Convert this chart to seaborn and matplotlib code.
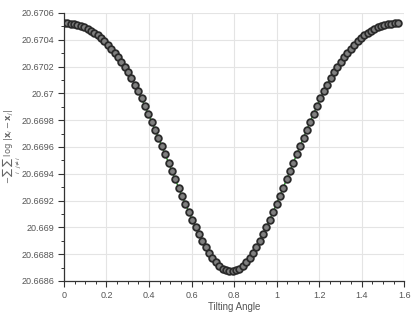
import matplotlib
matplotlib.use("Agg")
import matplotlib.pyplot as plt
import seaborn as sns
import pandas as pd
from matplotlib.ticker import MultipleLocator, FuncFormatter

angles = [
    0.0000, 0.0159, 0.0317, 0.0476, 0.0635, 0.0793, 0.0952, 0.1111, 0.1269, 0.1428,
    0.1587, 0.1745, 0.1904, 0.2063, 0.2221, 0.2380, 0.2539, 0.2697, 0.2856, 0.3015,
    0.3173, 0.3332, 0.3491, 0.3649, 0.3808, 0.3967, 0.4125, 0.4284, 0.4443, 0.4601,
    0.4760, 0.4919, 0.5077, 0.5236, 0.5395, 0.5553, 0.5712, 0.5871, 0.6029, 0.6188,
    0.6347, 0.6505, 0.6664, 0.6823, 0.6981, 0.7140, 0.7299, 0.7457, 0.7616, 0.7775,
    0.7933, 0.8092, 0.8251, 0.8409, 0.8568, 0.8727, 0.8885, 0.9044, 0.9203, 0.9361,
    0.9520, 0.9679, 0.9837, 0.9996, 1.0155, 1.0313, 1.0472, 1.0631, 1.0789, 1.0948,
    1.1107, 1.1265, 1.1424, 1.1583, 1.1741, 1.1900, 1.2059, 1.2217, 1.2376, 1.2535,
    1.2693, 1.2852, 1.3011, 1.3169, 1.3328, 1.3487, 1.3645, 1.3804, 1.3963, 1.4121,
    1.4280, 1.4439, 1.4597, 1.4756, 1.4915, 1.5073, 1.5232, 1.5391, 1.5549, 1.5708,
]

energy = [
    20.670525, 20.670524, 20.670521, 20.670517, 20.670511, 20.670503, 20.670493, 20.670481, 20.670466, 20.670450,
    20.670432, 20.670411, 20.670388, 20.670362, 20.670334, 20.670304, 20.670271, 20.670236, 20.670199, 20.670158,
    20.670114, 20.670066, 20.670015, 20.669962, 20.669906, 20.669848, 20.669789, 20.669729, 20.669669, 20.669607,
    20.669545, 20.669483, 20.669420, 20.669358, 20.669296, 20.669234, 20.669174, 20.669115, 20.669058, 20.669003,
    20.668950, 20.668900, 20.668853, 20.668811, 20.668773, 20.668740, 20.668713, 20.668692, 20.668678, 20.668671,
    20.668671, 20.668678, 20.668692, 20.668713, 20.668740, 20.668773, 20.668811, 20.668853, 20.668900, 20.668950,
    20.669003, 20.669058, 20.669115, 20.669174, 20.669234, 20.669296, 20.669358, 20.669420, 20.669483, 20.669545,
    20.669607, 20.669669, 20.669729, 20.669789, 20.669848, 20.669906, 20.669962, 20.670015, 20.670066, 20.670114,
    20.670158, 20.670199, 20.670236, 20.670271, 20.670304, 20.670334, 20.670362, 20.670388, 20.670411, 20.670432,
    20.670450, 20.670466, 20.670481, 20.670493, 20.670503, 20.670511, 20.670517, 20.670521, 20.670524, 20.670525,
]

x_label = "Tilting Angle"
y_label = r"$-\sum_i\,\sum_{j\neq i}\,\log\,|\mathbf{x}_i-\mathbf{x}_j|$"

sns.set_style("ticks")
plt.rcParams["font.family"] = ["Liberation Sans", "DejaVu Sans"]
plt.rcParams["mathtext.fontset"] = "dejavusans"

df = pd.DataFrame({"angle": angles, "energy": energy})

fig = plt.figure(figsize=(4.15, 3.16), dpi=100)
ax = fig.add_axes([0.154, 0.111, 0.82, 0.848])

sns.lineplot(data=df, x="angle", y="energy", ax=ax, color="#1a8a1a", linewidth=1.0,
             marker="o", markersize=4.8, markerfacecolor="#808080",
             markeredgecolor="#2a2a2a", markeredgewidth=1.3, zorder=3)

ax.set_xlim(0, 1.6)
ax.set_ylim(20.6686, 20.6706)
ax.xaxis.set_major_locator(MultipleLocator(0.2))
ax.xaxis.set_minor_locator(MultipleLocator(0.05))
ax.yaxis.set_major_locator(MultipleLocator(0.0002))
ax.yaxis.set_minor_locator(MultipleLocator(0.0001))
fmt = FuncFormatter(lambda v, p: "%g" % round(v, 6))
ax.xaxis.set_major_formatter(fmt)
ax.yaxis.set_major_formatter(fmt)

ax.grid(True, which="major", color="#e4e4e4", linewidth=0.8)
ax.set_axisbelow(True)
for s in ["top", "right"]:
    ax.spines[s].set_visible(False)
for s in ["left", "bottom"]:
    ax.spines[s].set_color("#333333")
    ax.spines[s].set_linewidth(0.9)

ax.tick_params(which="major", direction="out", length=4, width=0.8, color="#333333",
               labelsize=6.5, labelcolor="#555555", pad=3)
ax.tick_params(which="minor", direction="out", length=2.5, width=0.7, color="#333333")

ax.set_xlabel(x_label, fontsize=7, color="#555555", labelpad=2)
ax.set_ylabel(y_label, fontsize=6, color="#666666")
ax.yaxis.set_label_coords(-0.117, 0.5)

fig.savefig("out.png", dpi=100)
